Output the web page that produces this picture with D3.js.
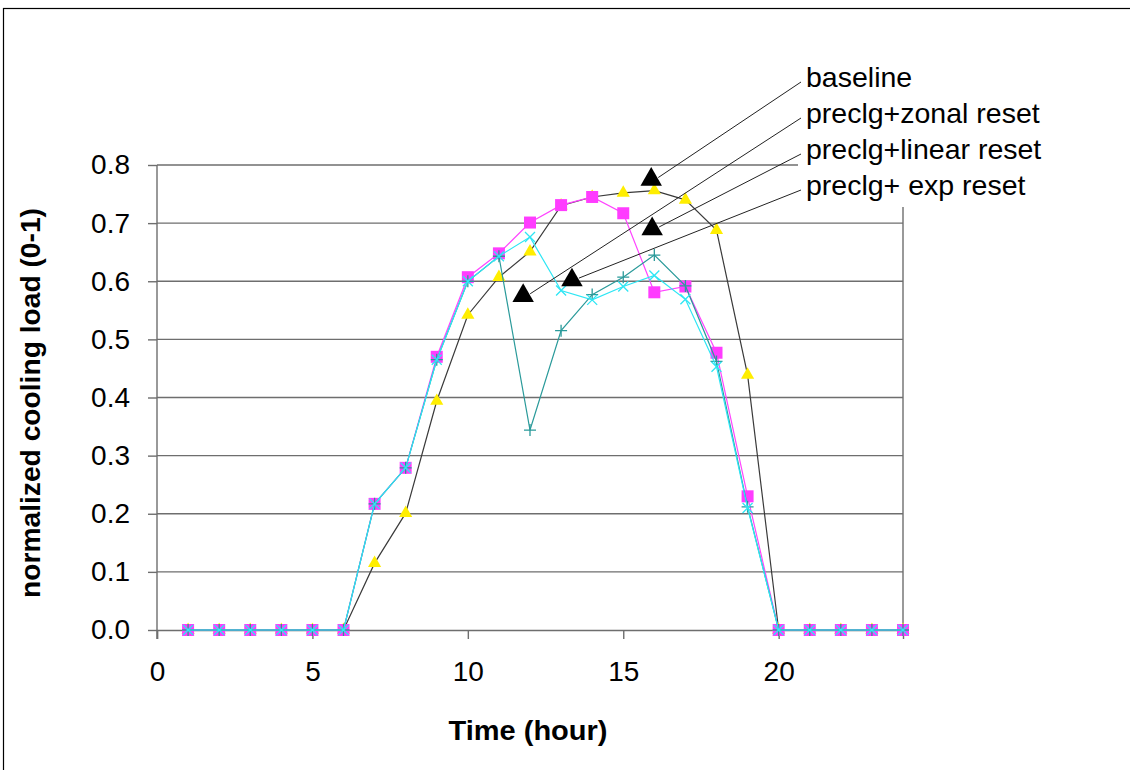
<!DOCTYPE html>
<html>
<head>
<meta charset="utf-8">
<script src="https://cdn.jsdelivr.net/npm/d3@7/dist/d3.min.js"></script>
<style>
  body { margin: 0; background: #fff; }
  svg { font-family: "Liberation Sans", Arial, sans-serif; }
</style>
</head>
<body>
<script>
// Data
const hours = [1, 2, 3, 4, 5, 6, 7, 8, 9, 10, 11, 12, 13, 14, 15, 16, 17, 18, 19, 20, 21, 22, 23, 24];
const baseline = [0, 0, 0, 0, 0, 0, 0.115, 0.201, 0.394, 0.542, 0.607, 0.651, 0.730, 0.745, 0.752, 0.756, 0.740, 0.688, 0.439, 0, 0, 0, 0, 0];
const zonalReset = [0, 0, 0, 0, 0, 0, 0.217, 0.279, 0.470, 0.607, 0.648, 0.701, 0.731, 0.745, 0.717, 0.581, 0.591, 0.477, 0.230, 0, 0, 0, 0, 0];
const linearReset = [0, 0, 0, 0, 0, 0, 0.217, 0.279, 0.465, 0.600, 0.643, 0.344, 0.515, 0.577, 0.607, 0.645, 0.592, 0.462, 0.212, 0, 0, 0, 0, 0];
const expReset = [0, 0, 0, 0, 0, 0, 0.217, 0.279, 0.465, 0.600, 0.643, 0.676, 0.584, 0.568, 0.591, 0.610, 0.569, 0.453, 0.210, 0, 0, 0, 0, 0];
const seriesNames = ["baseline", "preclg+zonal reset", "preclg+linear reset", "preclg+ exp reset"];
// big black callout triangles (hour, value) each legend label points to
const calloutHour = [15.9, 11.78, 15.93, 13.35];
const calloutValue = [0.775, 0.575, 0.69, 0.602];
const xTicks = [0, 5, 10, 15, 20];
const yTicks = [0, 0.1, 0.2, 0.3, 0.4, 0.5, 0.6, 0.7, 0.8];

// Layout constants
const WIDTH = 1130;
const HEIGHT = 770;
const PLOT_LEFT = 157;
const PLOT_RIGHT = 903;
const PLOT_TOP = 165;
const PLOT_BOTTOM = 630;
const GRID_COLOR = "#6e6e6e";
const FONT_SIZE = 28;

var svg = d3.select("body").append("svg")
  .attr("width", WIDTH)
  .attr("height", HEIGHT);

// outer chart frame (runs off the right and bottom edges)
svg.append("rect")
  .attr("x", 3.5).attr("y", 8.5)
  .attr("width", 1300).attr("height", 900)
  .attr("fill", "none").attr("stroke", "#000").attr("stroke-width", 1.2);

var x = d3.scaleLinear().domain([0, 24]).range([PLOT_LEFT, PLOT_RIGHT]);
var y = d3.scaleLinear().domain([0, 0.8]).range([PLOT_BOTTOM, PLOT_TOP]);

// horizontal gridlines
svg.append("g").selectAll("line")
  .data(yTicks.slice(1))
  .join("line")
  .attr("x1", PLOT_LEFT).attr("x2", PLOT_RIGHT)
  .attr("y1", d => y(d)).attr("y2", d => y(d))
  .attr("stroke", GRID_COLOR).attr("stroke-width", 1.4);

// right edge of the plot area
svg.append("line")
  .attr("x1", PLOT_RIGHT).attr("x2", PLOT_RIGHT)
  .attr("y1", PLOT_TOP).attr("y2", PLOT_BOTTOM)
  .attr("stroke", GRID_COLOR).attr("stroke-width", 1.4);

// y axis
var yAxis = svg.append("g")
  .attr("transform", "translate(" + PLOT_LEFT + ",0)")
  .call(d3.axisLeft(y).tickValues(yTicks).tickFormat(d3.format(".1f")).tickSize(9).tickPadding(18));

// x axis
var xAxis = svg.append("g")
  .attr("transform", "translate(0," + PLOT_BOTTOM + ")")
  .call(d3.axisBottom(x).tickValues(xTicks).tickSize(9).tickPadding(22));

[yAxis, xAxis].forEach(function(ax) {
  ax.select(".domain").attr("stroke", GRID_COLOR).attr("stroke-width", 1.4);
  ax.selectAll(".tick line").attr("stroke", GRID_COLOR).attr("stroke-width", 1.4);
  ax.selectAll(".tick text")
    .attr("fill", "#000")
    .style("font-size", FONT_SIZE + "px")
    .style("font-family", "'Liberation Sans', Arial, sans-serif");
});
// y axis line reaches down to the x tick
yAxis.select(".domain").attr("d", "M0," + PLOT_TOP + "V" + (PLOT_BOTTOM + 9));

// axis titles
svg.append("text")
  .attr("x", 528).attr("y", 740)
  .attr("text-anchor", "middle")
  .attr("font-weight", "bold")
  .attr("font-size", 28)
  .attr("textLength", 159)
  .attr("lengthAdjust", "spacingAndGlyphs")
  .text("Time (hour)");

svg.append("text")
  .attr("transform", "translate(40,403) rotate(-90)")
  .attr("text-anchor", "middle")
  .attr("font-weight", "bold")
  .attr("font-size", 27)
  .attr("textLength", 390)
  .attr("lengthAdjust", "spacingAndGlyphs")
  .text("normalized cooling load (0-1)");

// series drawing
var line = d3.line()
  .x(d => x(d.hour))
  .y(d => y(d.value));

var toPoints = function(values)
{
  return hours.map((h, i) => ({ hour: h, value: values[i] }));
}

var drawSeries = function(values, lineColor, marker)
{
  var pts = toPoints(values);
  var g = svg.append("g");
  g.append("path")
    .datum(pts)
    .attr("d", line)
    .attr("fill", "none")
    .attr("stroke", lineColor)
    .attr("stroke-width", 1.2);
  g.selectAll(".marker")
    .data(pts)
    .join("path")
    .attr("class", "marker")
    .attr("transform", d => "translate(" + x(d.hour) + "," + y(d.value) + ")")
    .attr("d", marker.path)
    .attr("fill", marker.fill)
    .attr("stroke", marker.stroke)
    .attr("stroke-width", marker.strokeWidth);
}

drawSeries(baseline, "#3a3a3a", {
  path: d3.symbol(d3.symbolTriangle, 75)(),
  fill: "#ffee00", stroke: "none", strokeWidth: 0
});
drawSeries(zonalReset, "#ff44ff", {
  path: d3.symbol(d3.symbolSquare, 144)(),
  fill: "#ff3cff", stroke: "none", strokeWidth: 0
});
drawSeries(linearReset, "#2a9a9a", {
  path: "M-6,0H6M0,-6V6",
  fill: "none", stroke: "#2a9a9a", strokeWidth: 1.3
});
drawSeries(expReset, "#2ee6f4", {
  path: "M-5,-5L5,5M-5,5L5,-5",
  fill: "none", stroke: "#2ee6f4", strokeWidth: 1.3
});

// legend box hides the plot corner behind it
svg.append("rect")
  .attr("x", 798).attr("y", 50)
  .attr("width", 262).attr("height", 157)
  .attr("fill", "#fff");

const LEGEND_X = 806;
const LEGEND_Y0 = 87;
const LEGEND_STEP = 36;

var legend = svg.append("g");
seriesNames.forEach(function(name, i)
{
  var ty = LEGEND_Y0 + i * LEGEND_STEP;
  var cx = x(calloutHour[i]);
  var cy = y(calloutValue[i]);
  legend.append("line")
    .attr("x1", LEGEND_X - 5).attr("y1", ty - 5)
    .attr("x2", cx + 7).attr("y2", cy - 2)
    .attr("stroke", "#222").attr("stroke-width", 1);
  legend.append("path")
    .attr("transform", "translate(" + cx + "," + cy + ")")
    .attr("d", d3.symbol(d3.symbolTriangle, 200)())
    .attr("fill", "#000");
  legend.append("text")
    .attr("x", LEGEND_X).attr("y", ty)
    .attr("font-size", 28.5)
    .text(name);
});
</script>
</body>
</html>
